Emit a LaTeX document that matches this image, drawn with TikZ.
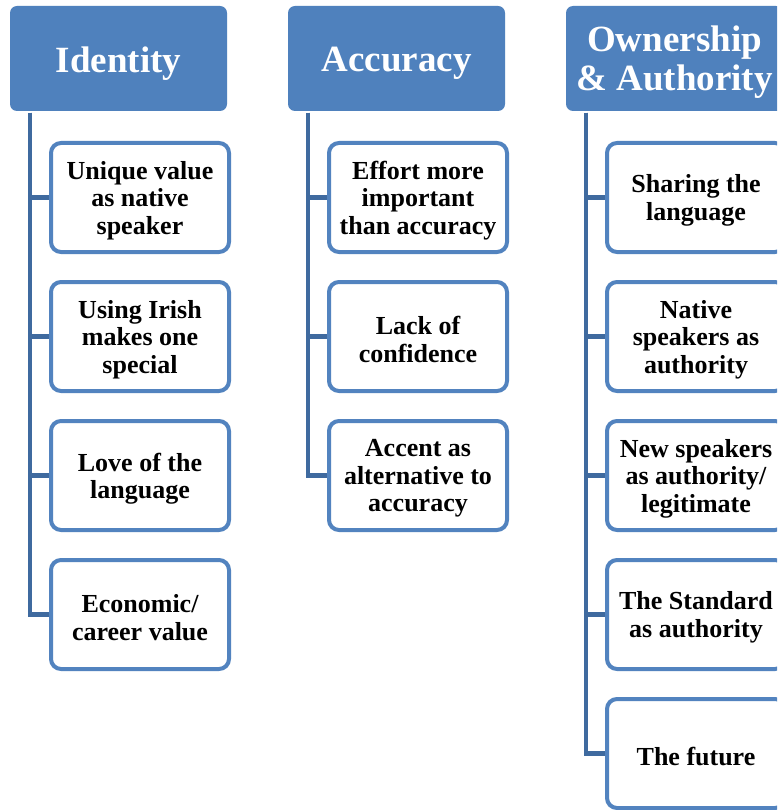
\documentclass[tikz,border=0pt]{standalone}
\usepackage{fontspec}
\setmainfont{Liberation Serif}
\definecolor{hdrblue}{HTML}{4F81BD}
\definecolor{boxblue}{HTML}{5283BF}
\definecolor{linkblue}{HTML}{3F6A9F}
\begin{document}
\begin{tikzpicture}[x=1pt,y=-1pt,
  hdr/.style={fill=hdrblue, rounded corners=7pt, minimum width=217pt, minimum height=105pt,
    inner sep=0pt},
  hdrtext/.style={text=white, align=center, inner sep=0pt, font=\fontsize{37}{39}\selectfont\bfseries},
  item/.style={draw=boxblue, line width=4pt, fill=white, rounded corners=10pt,
    minimum width=178pt, minimum height=109pt, inner sep=0pt},
  itemtext/.style={align=center, inner sep=0pt, font=\fontsize{26}{27.5}\selectfont\bfseries},
  conn/.style={draw=linkblue, line width=4.5pt}]
\useasboundingbox (0,0) rectangle (777,810);
\clip (0,0) rectangle (777,810);
\fill[white] (0,0) rectangle (777,810);
% headers
\node[hdr, label={[hdrtext, yshift=-5pt]center:Identity}] (I) at (118.5,58.5) {};
\node[hdr, label={[hdrtext, yshift=-5pt]center:Accuracy}] (A) at (396.5,58.5) {};
\node[hdr, label={[hdrtext, yshift=-4pt]center:{Ownership\\\& Authority}}] (O) at (674.5,58.5) {};
% line start coordinates
\coordinate (Ic) at (30,113);
\coordinate (Ac) at (308,113);
\coordinate (Oc) at (586,113);
% identity children
\tikzset{txt/.style={label={[itemtext, yshift=-3pt]center:{#1}}}}
\node[item, txt={Unique value\\as native\\speaker}] (I1) at (140,197.5) {};
\node[item, txt={Using Irish\\makes one\\special}] (I2) at (140,336.5) {};
\node[item, txt={Love of the\\language}] (I3) at (140,475.5) {};
\node[item, txt={Economic/\\career value}] (I4) at (140,614.5) {};
% accuracy children
\node[item, txt={Effort more\\important\\than accuracy}] (A1) at (418,197.5) {};
\node[item, txt={Lack of\\confidence}] (A2) at (418,336.5) {};
\node[item, txt={Accent as\\alternative to\\accuracy}] (A3) at (418,475.5) {};
% ownership children
\node[item, txt={Sharing the\\language}] (O1) at (696,197.5) {};
\node[item, txt={Native\\speakers as\\authority}] (O2) at (696,336.5) {};
\node[item, txt={New speakers\\as authority/\\legitimate}] (O3) at (696,475.5) {};
\node[item, txt={The Standard\\as authority}] (O4) at (696,614.5) {};
\node[item, txt={The future}] (O5) at (696,753.5) {};
% connectors
\foreach \c in {I1,I2,I3,I4} \draw[conn] (Ic) |- (\c.west);
\foreach \c in {A1,A2,A3} \draw[conn] (Ac) |- (\c.west);
\foreach \c in {O1,O2,O3,O4,O5} \draw[conn] (Oc) |- (\c.west);
\end{tikzpicture}
\end{document}
